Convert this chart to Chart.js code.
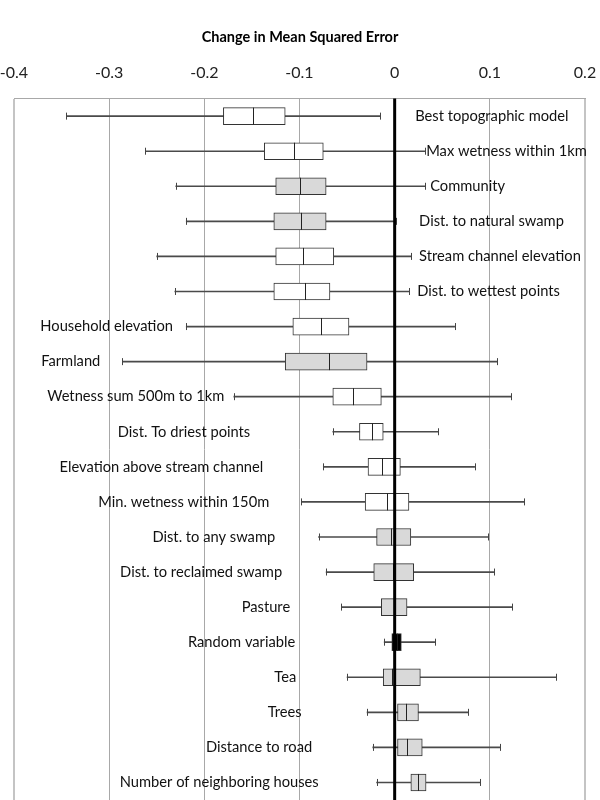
<!DOCTYPE html>
<html>
<head>
<meta charset="utf-8">
<script src="https://cdn.jsdelivr.net/npm/chart.js@4/dist/chart.umd.min.js"></script>
<style>
  html, body { margin: 0; padding: 0; background: #fff; }
  #wrap { width: 600px; height: 800px; }
</style>
</head>
<body>
<div id="wrap"><canvas id="grafico" width="600" height="800"></canvas></div>
<script>
// Variables (one box per row, top to bottom)
const variables = [
  'Best topographic model', 'Max wetness within 1km', 'Community',
  'Dist. to natural swamp', 'Stream channel elevation', 'Dist. to wettest points',
  'Household elevation', 'Farmland', 'Wetness sum 500m to 1km',
  'Dist. To driest points', 'Elevation above stream channel', 'Min. wetness within 150m',
  'Dist. to any swamp', 'Dist. to reclaimed swamp', 'Pasture', 'Random variable',
  'Tea', 'Trees', 'Distance to road', 'Number of neighboring houses'
];

// Box plot statistics (change in MSE)
const whiskerLow  = [-0.345, -0.262, -0.230, -0.219, -0.250, -0.231, -0.219, -0.286, -0.169, -0.065,
                     -0.075, -0.098, -0.080, -0.072, -0.056, -0.011, -0.050, -0.029, -0.023, -0.019];
const quartile1   = [-0.180, -0.137, -0.125, -0.127, -0.125, -0.127, -0.107, -0.115, -0.065, -0.037,
                     -0.028, -0.031, -0.019, -0.022, -0.014, -0.003, -0.012, 0.003, 0.003, 0.017];
const medians     = [-0.149, -0.106, -0.100, -0.098, -0.096, -0.094, -0.077, -0.069, -0.044, -0.024,
                     -0.013, -0.008, -0.004, -0.002, -0.001, 0.002, -0.003, 0.012, 0.013, 0.024];
const quartile3   = [-0.115, -0.075, -0.072, -0.072, -0.064, -0.068, -0.048, -0.029, -0.014, -0.012,
                     0.006, 0.015, 0.017, 0.020, 0.013, 0.007, 0.027, 0.025, 0.029, 0.033];
const whiskerHigh = [-0.015, 0.032, 0.032, 0.001, 0.017, 0.015, 0.063, 0.108, 0.122, 0.046,
                     0.084, 0.136, 0.098, 0.104, 0.123, 0.042, 0.170, 0.077, 0.111, 0.090];

// Styling per row (kept apart from the data)
const GRIS = '#d9d9d9';
const rellenoCaja = ['#fff', '#fff', GRIS, GRIS, '#fff', '#fff', '#fff', GRIS, '#fff', '#fff',
                     '#fff', '#fff', GRIS, GRIS, GRIS, '#000', GRIS, GRIS, GRIS, GRIS];
// where each text label sits (axis units) and which side of the anchor it runs
const etiquetaEn = [0.0215, 0.0331, 0.0373, 0.0257, 0.0257, 0.0236, -0.233, -0.3093, -0.1791, -0.1518,
                    -0.1381, -0.1318, -0.1255, -0.1182, -0.1098, -0.1045, -0.1034, -0.0977, -0.0867, -0.0798];
const etiquetaLado = variables.map((v, i) => i < 6 ? 'left' : 'right');

const FUENTE = 'Lato, "Open Sans", sans-serif';

// Caps, medians, zero line and row labels
const pluginCajas = {
  id: 'cajas',
  afterDatasetsDraw(chart) {
    const ctx = chart.ctx;
    const x = chart.scales.x;
    const y = chart.scales.y;
    const area = chart.chartArea;
    ctx.save();
    // whisker caps
    ctx.strokeStyle = '#444';
    ctx.lineWidth = 1;
    variables.forEach((v, i) => {
      const py = y.getPixelForValue(i);
      [whiskerLow[i], whiskerHigh[i]].forEach(val => {
        const px = Math.round(x.getPixelForValue(val)) + 0.5;
        ctx.beginPath();
        ctx.moveTo(px, py - 3.5);
        ctx.lineTo(px, py + 3.5);
        ctx.stroke();
      });
    });
    // medians
    ctx.strokeStyle = '#222';
    variables.forEach((v, i) => {
      const py = y.getPixelForValue(i);
      const px = Math.round(x.getPixelForValue(medians[i])) + 0.5;
      ctx.beginPath();
      ctx.moveTo(px, py - 8.5);
      ctx.lineTo(px, py + 8.5);
      ctx.stroke();
    });
    // thick zero line over the boxes
    const x0 = x.getPixelForValue(0);
    ctx.strokeStyle = '#000';
    ctx.lineWidth = 3;
    ctx.beginPath();
    ctx.moveTo(x0, area.top);
    ctx.lineTo(x0, area.bottom);
    ctx.stroke();
    // labels
    ctx.fillStyle = '#111';
    ctx.font = '14.7px ' + FUENTE;
    ctx.textBaseline = 'middle';
    variables.forEach((v, i) => {
      ctx.textAlign = etiquetaLado[i];
      ctx.fillText(v, x.getPixelForValue(etiquetaEn[i]), y.getPixelForValue(i));
    });
    ctx.restore();
  }
};

new Chart(document.getElementById('grafico').getContext('2d'), {
  type: 'bar',
  data: {
    labels: variables,
    datasets: [
      {
        label: 'Rango',
        data: variables.map((v, i) => [whiskerLow[i], whiskerHigh[i]]),
        backgroundColor: '#4a4a4a',
        barThickness: 1,
        grouped: false,
        order: 2
      },
      {
        label: 'Cuartiles',
        data: variables.map((v, i) => [quartile1[i], quartile3[i]]),
        backgroundColor: rellenoCaja,
        borderColor: '#333',
        borderWidth: 1,
        borderSkipped: false,
        barThickness: 17,
        grouped: false,
        order: 1
      }
    ]
  },
  options: {
    indexAxis: 'y',
    responsive: false,
    animation: false,
    layout: { padding: 0 },
    plugins: {
      legend: { display: false },
      tooltip: { enabled: false },
      title: {
        display: true,
        text: 'Change in Mean Squared Error',
        color: '#000',
        font: { family: FUENTE, size: 14.5, weight: 'bold' },
        padding: { top: 29, bottom: 1 }
      }
    },
    scales: {
      x: {
        type: 'linear',
        position: 'top',
        min: -0.4,
        max: 0.2,
        afterFit: s => { s.paddingLeft = 14; s.paddingRight = 15; },
        ticks: {
          stepSize: 0.1,
          color: '#222',
          font: { family: FUENTE, size: 16 },
          padding: 16,
          callback: v => String(Math.round(v * 10) / 10)
        },
        grid: {
          drawTicks: false,
          color: c => (c.index === 0 || c.index === 6) ? '#c4c4c4' : '#a8a8a8',
          lineWidth: c => (c.index === 0 || c.index === 6) ? 2 : 1
        },
        border: { display: true, color: '#a8a8a8', width: 1 }
      },
      y: {
        display: false
      }
    }
  },
  plugins: [pluginCajas]
});
</script>
</body>
</html>
